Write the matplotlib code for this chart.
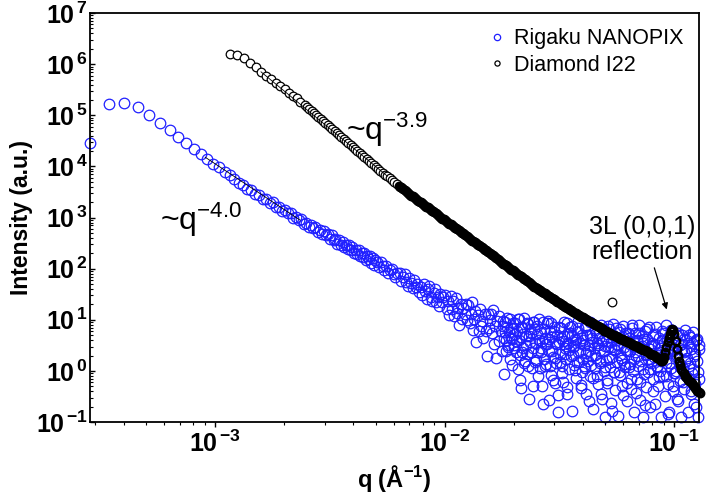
import matplotlib.pyplot as plt
import numpy as np
from matplotlib.ticker import LogLocator, NullFormatter, FuncFormatter

plt.rcParams['font.family'] = 'Liberation Sans'
plt.rcParams['mathtext.fontset'] = 'custom'
plt.rcParams['mathtext.rm'] = 'Liberation Sans'
plt.rcParams['mathtext.bf'] = 'Liberation Sans:bold'
plt.rcParams['mathtext.it'] = 'Liberation Sans:italic'

# ---------------- Data (log10 values) ----------------
# Rigaku NANOPIX: log10 q (A^-1) and log10 intensity
rigaku_logq = [
    -3.544, -3.463, -3.396, -3.337, -3.286, -3.240, -3.198, -3.160, -3.125, -3.093,
    -3.063, -3.034, -3.008, -2.983, -2.959, -2.937, -2.916, -2.896,
    -2.877, -2.859, -2.842, -2.825, -2.809, -2.793, -2.778, -2.763, -2.749, -2.735,
    -2.721, -2.708, -2.695, -2.683, -2.671, -2.659, -2.647, -2.636, -2.625, -2.614,
    -2.603, -2.593, -2.583, -2.573, -2.563, -2.554, -2.545, -2.536, -2.527, -2.518,
    -2.509, -2.500, -2.492, -2.484, -2.476, -2.468, -2.460, -2.452, -2.444, -2.437,
    -2.430, -2.423, -2.416, -2.409, -2.402, -2.395, -2.388, -2.381, -2.374, -2.368,
    -2.362, -2.356, -2.350, -2.344, -2.338, -2.332, -2.326, -2.320, -2.314, -2.308,
    -2.302,
    -2.295, -2.287, -2.279, -2.271, -2.263, -2.255, -2.247, -2.239, -2.231, -2.223, -2.215, -2.207,
    -2.196, -2.189, -2.182, -2.175, -2.168, -2.161, -2.154, -2.147, -2.140, -2.133, -2.126, -2.119,
    -2.112, -2.105,
    -2.097, -2.091, -2.085, -2.079, -2.073, -2.067, -2.061, -2.055, -2.049, -2.043, -2.037, -2.031,
    -2.025, -2.019, -2.013, -2.007,
    -1.997, -1.991, -1.986, -1.980, -1.975, -1.969, -1.964, -1.958, -1.953, -1.947, -1.942, -1.936,
    -1.931, -1.925, -1.920, -1.914, -1.909, -1.903,
    -1.897, -1.892, -1.887, -1.882, -1.877, -1.872, -1.867, -1.862, -1.857, -1.852, -1.847, -1.842,
    -1.837, -1.832, -1.827, -1.822, -1.817, -1.812, -1.807, -1.802,
    -1.798, -1.793, -1.789, -1.784, -1.780, -1.775, -1.771, -1.766, -1.762, -1.757, -1.753, -1.748,
    -1.744, -1.739, -1.735, -1.730, -1.726, -1.721, -1.717, -1.712, -1.708, -1.703,
    -1.698, -1.694, -1.690, -1.686, -1.682, -1.678, -1.674, -1.670, -1.666, -1.662, -1.658, -1.654,
    -1.650, -1.646, -1.642, -1.638, -1.634, -1.630, -1.626, -1.622, -1.618, -1.614, -1.610, -1.606,
    -1.598, -1.594, -1.590, -1.587, -1.583, -1.579, -1.575, -1.571, -1.567, -1.564, -1.560, -1.556,
    -1.552, -1.548, -1.545, -1.541, -1.537, -1.533, -1.529, -1.525, -1.522, -1.518, -1.514, -1.510,
    -1.506, -1.502,
    -1.498, -1.494, -1.491, -1.487, -1.484, -1.480, -1.476, -1.473, -1.469, -1.466, -1.462, -1.458,
    -1.455, -1.451, -1.448, -1.444, -1.440, -1.437, -1.433, -1.430, -1.426, -1.422, -1.419, -1.415,
    -1.412, -1.408, -1.404, -1.401,
    -1.398, -1.394, -1.391, -1.387, -1.384, -1.380, -1.376, -1.373, -1.369, -1.366, -1.362, -1.358,
    -1.355, -1.351, -1.348, -1.344, -1.340, -1.337, -1.333, -1.330, -1.326, -1.322, -1.319, -1.315,
    -1.312, -1.308, -1.304, -1.301,
    -1.298, -1.295, -1.292, -1.288, -1.285, -1.282, -1.278, -1.275, -1.272, -1.268, -1.265, -1.262,
    -1.258, -1.255, -1.252, -1.248, -1.245, -1.242, -1.238, -1.235, -1.232, -1.228, -1.225, -1.222,
    -1.218, -1.215, -1.212, -1.208, -1.205, -1.202,
    -1.198, -1.195, -1.192, -1.188, -1.185, -1.182, -1.178, -1.175, -1.172, -1.168, -1.165, -1.162,
    -1.158, -1.155, -1.152, -1.148, -1.145, -1.142, -1.138, -1.135, -1.132, -1.128, -1.125, -1.122,
    -1.118, -1.115, -1.112, -1.108, -1.105, -1.102,
    -1.098, -1.095, -1.092, -1.088, -1.085, -1.082, -1.078, -1.075, -1.072, -1.068, -1.065, -1.062,
    -1.058, -1.055, -1.052, -1.048, -1.045, -1.042, -1.038, -1.035, -1.032, -1.028, -1.025, -1.022,
    -1.018, -1.015, -1.012, -1.008, -1.005, -1.002,
    -0.998, -0.995, -0.991, -0.988, -0.984, -0.981, -0.978, -0.974, -0.971, -0.967, -0.964, -0.960,
    -0.957, -0.954, -0.950, -0.947, -0.943, -0.940, -0.936, -0.933, -0.930, -0.926, -0.923, -0.919,
    -0.916, -0.912, -0.909, -0.906, -0.902, -0.899, -0.895, -0.892,
]
rigaku_logI = [
    4.46, 5.22, 5.24, 5.16, 5.00, 4.85, 4.71, 4.57, 4.46, 4.34,
    4.24, 4.14, 4.05, 3.98, 3.90, 3.83, 3.76, 3.68,
    3.63, 3.55, 3.54, 3.46, 3.44, 3.36, 3.36, 3.29, 3.30, 3.21,
    3.20, 3.13, 3.15, 3.08, 3.09, 3.00, 3.01, 2.95, 2.97, 2.88,
    2.90, 2.82, 2.86, 2.80, 2.82, 2.72, 2.75, 2.68, 2.73, 2.65,
    2.67, 2.58, 2.65, 2.56, 2.59, 2.49, 2.56, 2.47, 2.53, 2.42,
    2.47, 2.38, 2.47, 2.37, 2.42, 2.30, 2.37, 2.29, 2.37, 2.24,
    2.30, 2.22, 2.30, 2.17, 2.25, 2.18, 2.25, 2.12, 2.20, 2.08,
    2.16,
    2.14, 2.04, 2.13, 2.05, 1.98, 2.05, 1.91, 1.98, 2.00, 1.89, 1.84, 1.92,
    1.91, 1.75, 1.83, 1.90, 1.73, 1.66, 1.81, 1.72, 1.63, 1.78, 1.64, 1.70,
    1.54, 1.64,
    1.49, 1.70, 1.56, 1.40, 1.61, 1.66, 1.44, 1.36, 1.52, 1.61, 1.35, 1.45,
    1.27, 1.50, 1.35, 1.44,
    1.49, 1.21, 1.37, 1.10, 1.47, 1.22, 1.36, 1.08, 1.43, 1.13, 1.23, 0.89,
    1.31, 1.02, 1.23, 1.12, 1.31, 1.00,
    1.29, 0.93, 1.12, 1.34, 0.80, 1.01, 1.17, 0.56, 1.10, 0.79, 1.22, 0.88,
    0.97, 0.64, 1.11, 0.79, 0.30, 1.11, 0.83, 0.99,
    1.11, 0.75, 1.19, 0.53, 0.87, 0.26, 0.98, 0.59, 1.08, 0.79, 0.38, 0.87,
    -0.06, 0.95, 0.60, 1.03, 0.46, 0.77, 0.24, 0.83, 0.62, 0.94,
    0.45, 0.94, 0.59, 0.78, 0.03, 1.02, 0.32, 0.66, -0.34, 0.85, 0.45, 1.04,
    0.19, 0.68, 0.33, 0.92, -0.54, 0.56, 0.75, 0.05, 0.96, 0.44, 0.81, 0.18,
    0.87, 0.36, 0.61, 0.06, 0.75, 0.45, -0.30, 0.95, 0.24, 0.64, 0.14, 0.53,
    0.98, -0.57, 0.38, 0.77, -0.08, 0.67, 0.27, 0.86, -0.24, 0.54, 0.16, 0.71,
    -0.80, 0.57,
    0.34, 0.84, 0.09, 0.59, -0.21, 0.69, 0.44, 0.24, 0.94, -0.46, 0.54, 0.04,
    0.74, 0.29, 0.87, -0.78, 0.47, 0.12, 0.62, -0.13, 0.77, 0.37, 0.97, 0.17,
    0.54, -0.33, 0.70, -0.03,
    0.60, 0.10, 0.85, 0.35, -0.45, 0.70, 0.20, 0.50, -0.10, 0.95, 0.30, 0.65,
    -0.75, 0.45, 0.05, 0.80, 0.25, 0.55, -0.25, 0.75, 0.40, 0.15, 0.90, -0.55,
    0.60, 0.00, 0.48, -0.90,
    0.22, 0.72, -0.18, 0.47, 0.82, 0.07, -0.63, 0.57, 0.27, 0.92, -0.03, 0.42,
    -0.38, 0.67, 0.17, 0.52, -0.88, 0.77, 0.32, -0.08, 0.62, 0.22, 0.87, -0.48,
    0.47, 0.07, 0.75, -0.23, 0.39, 0.59,
    0.64, 0.14, 0.39, -0.36, 0.84, -0.01, 0.49, -0.81, 0.74, 0.29, -0.16, 0.59,
    0.09, 0.89, -0.56, 0.44, 0.19, 0.69, -0.91, 0.54, -0.06, 0.79, 0.34, -0.31,
    0.62, 0.24, 0.86, 0.04, -0.71, 0.49,
    0.20, 0.70, -0.15, 0.50, -0.65, 0.85, 0.10, 0.35, -0.30, 0.65, 0.00, 0.45,
    -0.90, 0.78, 0.30, -0.10, 0.55, -0.50, 0.90, 0.15, 0.40, -0.25, 0.68, -0.80,
    0.50, 0.05, 0.80, -0.40, 0.38, -0.05,
    0.60, 0.00, 0.30, -0.55, 0.75, 0.15, -0.20, 0.50, -0.90, 0.70, 0.05, 0.37,
    -0.35, 0.80, -0.10, 0.25, -0.80, 0.55, 0.10, 0.67, -0.45, 0.43, -0.05, 0.77,
    -0.65, 0.33, -0.25, 0.60, 0.20, -0.90, 0.50, -0.15,
]
# second, interleaved set of Rigaku points in the noisy high-q cloud
rigaku_cloud_logq = [
    -1.748, -1.743, -1.738, -1.733, -1.728, -1.723, -1.718, -1.713, -1.708, -1.703,
    -1.698, -1.693, -1.688, -1.683, -1.678, -1.673, -1.668, -1.663, -1.658, -1.653,
    -1.648, -1.643, -1.638, -1.633, -1.628, -1.623, -1.618, -1.613, -1.608, -1.603,
    -1.598, -1.593, -1.588, -1.583, -1.578, -1.573, -1.568, -1.563, -1.558, -1.553,
    -1.548, -1.543, -1.538, -1.533, -1.528, -1.523, -1.518, -1.513, -1.508, -1.503,
    -1.498, -1.493, -1.488, -1.483, -1.478, -1.473, -1.468, -1.463, -1.458, -1.453,
    -1.448, -1.443, -1.438, -1.433, -1.428, -1.423, -1.418, -1.413, -1.408, -1.403,
    -1.398, -1.393, -1.388, -1.383, -1.378, -1.373, -1.368, -1.363, -1.358, -1.353,
    -1.348, -1.343, -1.338, -1.333, -1.328, -1.323, -1.318, -1.313, -1.308, -1.303,
    -1.298, -1.293, -1.288, -1.283, -1.278, -1.273, -1.268, -1.263, -1.258, -1.253,
    -1.248, -1.243, -1.238, -1.233, -1.228, -1.223, -1.218, -1.213, -1.208, -1.203,
    -1.198, -1.193, -1.188, -1.183, -1.178, -1.173, -1.168, -1.163, -1.158, -1.153,
    -1.148, -1.143, -1.138, -1.133, -1.128, -1.123, -1.118, -1.113, -1.108, -1.103,
    -1.098, -1.093, -1.088, -1.083, -1.078, -1.073, -1.068, -1.063, -1.058, -1.053,
    -1.048, -1.043, -1.038, -1.033, -1.028, -1.023, -1.018, -1.013, -1.008, -1.003,
    -0.998, -0.993, -0.988, -0.983, -0.978, -0.973, -0.968, -0.963, -0.958, -0.953,
    -0.948, -0.943, -0.938, -0.933, -0.928, -0.923, -0.918, -0.913, -0.908, -0.903,
    -0.898, -0.893,
]
rigaku_cloud_logI = [
    0.97, 0.64, 0.77, 0.38, 0.85, 0.50, 1.01, 0.64, 0.11, 0.84,
    0.51, 0.73, 0.36, 1.02, 0.61, -0.18, 0.86, 0.37, 0.72, 0.16,
    0.51, 0.93, 0.10, 0.69, 0.81, 0.36, -0.30, 0.96, 0.54, 0.21,
    0.72, -0.09, 1.01, 0.36, 0.59, -0.65, 0.82, 0.10, 0.52, 0.94,
    0.63, 0.10, 0.93, 0.38, -0.17, 0.78, 0.26, 0.53, -0.47, 0.86,
    0.18, 0.64, -0.04, 0.96, 0.34, 0.48, -0.32, 0.72, 0.41, 0.86,
    0.71, 0.31, 0.48, 0.01, 0.61, 0.18, 0.83, 0.38, -0.27, 0.65,
    0.23, 0.51, 0.06, 0.89, 0.39, -0.59, 0.71, 0.11, 0.56, -0.14,
    0.31, 0.74, -0.09, 0.51, 0.64, 0.19, -0.46, 0.81, 0.39, 0.07,
    0.58, -0.23, 0.88, 0.23, 0.46, -0.78, 0.70, -0.03, 0.41, 0.83,
    0.51, -0.02, 0.81, 0.26, -0.29, 0.66, 0.14, 0.41, -0.59, 0.74,
    0.07, 0.53, -0.16, 0.90, 0.23, 0.37, -0.44, 0.61, 0.30, 0.75,
    -0.22, 0.48, 0.03, 0.63, -0.67, 0.31, 0.81, -0.02, 0.43, 0.15,
    0.54, -0.39, 0.27, 0.72, 0.07, 0.50, -0.11, 0.37, 0.20, 0.60,
    0.75, 0.33, -0.10, 0.62, -0.85, 0.38, 0.15, 0.80, -0.30, 0.50,
    -0.05, 0.28, 0.70, -0.58, 0.08, 0.53, 0.40, -0.21, 0.63, 0.20,
    0.40, -0.13, 0.70, 0.15, -0.40, 0.55, 0.03, 0.30, -0.70, 0.63,
    -0.03, 0.43,
]

# Diamond I22: log10 q and log10 intensity
diamond_logq = [
    -2.936, -2.905, -2.876, -2.849, -2.824, -2.800, -2.777, -2.756, -2.735, -2.716,
    -2.697, -2.679, -2.662, -2.645, -2.629,
    -2.61, -2.60, -2.59, -2.58, -2.57, -2.56, -2.55, -2.54, -2.53, -2.52,
    -2.51, -2.50, -2.49, -2.48, -2.47, -2.46, -2.45, -2.44, -2.43, -2.42,
    -2.41, -2.40, -2.39, -2.38, -2.37, -2.36, -2.35, -2.34, -2.33, -2.32,
    -2.31, -2.30, -2.29, -2.28, -2.27, -2.26, -2.25, -2.24, -2.23, -2.22,
    -2.21,
    -2.200, -2.195, -2.190, -2.185, -2.180, -2.175, -2.170, -2.165, -2.160, -2.155,
    -2.150, -2.145, -2.140, -2.135, -2.130, -2.125, -2.120, -2.115, -2.110, -2.105,
    -2.100, -2.095, -2.090, -2.085, -2.080, -2.075, -2.070, -2.065, -2.060, -2.055,
    -2.050, -2.045, -2.040, -2.035, -2.030, -2.025, -2.020, -2.015, -2.010, -2.005,
    -2.000, -1.995, -1.990, -1.985, -1.980, -1.975, -1.970, -1.965, -1.960, -1.955,
    -1.950, -1.945, -1.940, -1.935, -1.930, -1.925, -1.920, -1.915, -1.910, -1.905,
    -1.900, -1.895, -1.890, -1.885, -1.880, -1.875, -1.870, -1.865, -1.860, -1.855,
    -1.850, -1.845, -1.840, -1.835, -1.830, -1.825, -1.820, -1.815, -1.810, -1.805,
    -1.800, -1.795, -1.790, -1.785, -1.780, -1.775, -1.770, -1.765, -1.760, -1.755,
    -1.750, -1.745, -1.740, -1.735, -1.730, -1.725, -1.720, -1.715, -1.710, -1.705,
    -1.700, -1.695, -1.690, -1.685, -1.680, -1.675, -1.670, -1.665, -1.660, -1.655,
    -1.650, -1.645, -1.640, -1.635, -1.630, -1.625, -1.620, -1.615, -1.610, -1.605,
    -1.600, -1.595, -1.590, -1.585, -1.580, -1.575, -1.570, -1.565, -1.560, -1.555,
    -1.550, -1.545, -1.540, -1.535, -1.530, -1.525, -1.520, -1.515, -1.510, -1.505,
    -1.500, -1.495, -1.490, -1.485, -1.480, -1.475, -1.470, -1.465, -1.460, -1.455,
    -1.450, -1.445, -1.440, -1.435, -1.430, -1.425, -1.420, -1.415, -1.410, -1.405,
    -1.400, -1.395, -1.390, -1.385, -1.380, -1.375, -1.370, -1.365, -1.360, -1.355,
    -1.350, -1.345, -1.340, -1.335, -1.330, -1.325, -1.320, -1.315, -1.310, -1.305,
    -1.300, -1.295, -1.290, -1.285, -1.280, -1.275, -1.270, -1.265, -1.260, -1.255,
    -1.250, -1.245, -1.240, -1.235, -1.230, -1.225, -1.220, -1.215, -1.210, -1.205,
    -1.200, -1.195, -1.190, -1.185, -1.180, -1.175, -1.170, -1.165, -1.160, -1.155,
    -1.150, -1.145, -1.140, -1.135, -1.130, -1.125, -1.120, -1.115, -1.110, -1.105,
    -1.100, -1.095, -1.090, -1.085, -1.080, -1.075, -1.070, -1.065, -1.060, -1.055,
    -1.050, -1.045, -1.040, -1.035, -1.030, -1.025, -1.020, -1.015, -1.010, -1.005,
    -1.000, -0.995, -0.990, -0.985, -0.980, -0.975, -0.970, -0.965, -0.960, -0.955,
    -0.950, -0.945, -0.940, -0.935, -0.930, -0.925, -0.920, -0.915, -0.910, -0.905,
    -0.900, -0.895, -0.890,
]
diamond_logI = [
    6.19, 6.18, 6.12, 6.02, 5.94, 5.85, 5.77, 5.71, 5.64, 5.58,
    5.51, 5.44, 5.38, 5.33, 5.27,
    5.20, 5.16, 5.12, 5.08, 5.04, 5.00, 4.97, 4.93, 4.89, 4.85,
    4.81, 4.77, 4.73, 4.69, 4.65, 4.61, 4.58, 4.54, 4.50, 4.46,
    4.42, 4.38, 4.34, 4.30, 4.26, 4.22, 4.19, 4.15, 4.11, 4.07,
    4.03, 3.99, 3.95, 3.92, 3.88, 3.84, 3.81, 3.77, 3.73, 3.69,
    3.66,
    3.62, 3.60, 3.59, 3.57, 3.55, 3.54, 3.52, 3.50, 3.48, 3.47,
    3.45, 3.43, 3.42, 3.40, 3.38, 3.37, 3.35, 3.33, 3.31, 3.30,
    3.28, 3.26, 3.25, 3.23, 3.21, 3.20, 3.18, 3.16, 3.15, 3.13,
    3.12, 3.10, 3.08, 3.07, 3.05, 3.03, 3.02, 3.00, 2.98, 2.97,
    2.95, 2.93, 2.92, 2.90, 2.88, 2.87, 2.85, 2.83, 2.82, 2.80,
    2.79, 2.77, 2.75, 2.74, 2.72, 2.70, 2.69, 2.67, 2.65, 2.64,
    2.62, 2.60, 2.59, 2.57, 2.55, 2.54, 2.52, 2.50, 2.49, 2.47,
    2.46, 2.44, 2.42, 2.41, 2.39, 2.37, 2.36, 2.34, 2.32, 2.31,
    2.29, 2.27, 2.26, 2.24, 2.22, 2.21, 2.19, 2.17, 2.15, 2.14,
    2.12, 2.10, 2.09, 2.07, 2.05, 2.04, 2.02, 2.00, 1.98, 1.97,
    1.95, 1.93, 1.92, 1.90, 1.88, 1.87, 1.85, 1.83, 1.82, 1.80,
    1.79, 1.77, 1.75, 1.74, 1.72, 1.70, 1.69, 1.67, 1.65, 1.64,
    1.62, 1.61, 1.59, 1.58, 1.56, 1.55, 1.53, 1.52, 1.50, 1.49,
    1.47, 1.46, 1.44, 1.43, 1.41, 1.40, 1.38, 1.37, 1.35, 1.34,
    1.32, 1.31, 1.29, 1.28, 1.27, 1.25, 1.24, 1.23, 1.21, 1.20,
    1.19, 1.17, 1.16, 1.14, 1.13, 1.12, 1.10, 1.09, 1.08, 1.06,
    1.05, 1.04, 1.02, 1.01, 1.00, 0.98, 0.97, 0.96, 0.94, 0.93,
    0.92, 0.90, 0.89, 0.87, 0.86, 0.85, 0.83, 0.82, 0.81, 0.79,
    0.78, 0.77, 0.76, 0.75, 0.74, 0.72, 0.71, 0.70, 0.69, 0.68,
    0.67, 0.66, 0.65, 0.63, 0.62, 0.61, 0.60, 0.59, 0.58, 0.57,
    0.56, 0.54, 0.53, 0.52, 0.51, 0.50, 0.49, 0.48, 0.47, 0.45,
    0.44, 0.43, 0.42, 0.41, 0.40, 0.39, 0.38, 0.36, 0.35, 0.34,
    0.33, 0.32, 0.305, 0.29, 0.275, 0.26, 0.245, 0.225, 0.20, 0.19,
    0.21, 0.27, 0.36, 0.46, 0.56, 0.65, 0.73, 0.79, 0.82, 0.80,
    0.72, 0.58, 0.43, 0.30, 0.19, 0.11, 0.04, -0.01, -0.05, -0.09,
    -0.12, -0.145, -0.17, -0.195, -0.22, -0.245, -0.27, -0.30, -0.33, -0.36,
    -0.39, -0.415, -0.44,
]
n_sparse = 56  # the low-q Diamond points are still resolved as separate circles

# single stray Diamond point near q = 0.053
diamond_stray_logq = [-1.274]
diamond_stray_logI = [1.345]

# power-law guide lines (end points, log10)
fit40_logq = [-3.043, -2.630]
fit40_logI = [4.18, 2.95]
fit39_logq = [-2.800, -2.250]
fit39_logI = [5.85, 3.81]

# ---------------- Plotting ----------------
fig = plt.figure(figsize=(7.08, 5.03), dpi=100)
ax = fig.add_axes([0.127, 0.161, 0.860, 0.813])

rq = 10 ** np.array(rigaku_logq + rigaku_cloud_logq)
rI = 10 ** np.array(rigaku_logI + rigaku_cloud_logI)
ax.plot(rq, rI, ls='none', marker='o', ms=7.6, mfc='none', mec='#1f1fff', mew=0.9,
        clip_on=False, label='Rigaku NANOPIX', zorder=2)

dq = 10 ** np.array(diamond_logq)
dI = 10 ** np.array(diamond_logI)
black_open = dict(ls='none', marker='o', ms=6.2, mfc='white', mec='black', mew=0.9,
                  clip_on=False, zorder=3)
ax.plot(dq[:n_sparse], dI[:n_sparse], label='Diamond I22', **black_open)
ax.plot(10 ** np.array(diamond_stray_logq), 10 ** np.array(diamond_stray_logI), **black_open)
# overlapping markers of the dense part merge into a solid band
ax.plot(dq[n_sparse:], dI[n_sparse:], ls='none', marker='o', ms=5.3, mfc='none',
        mec='black', mew=1.8, clip_on=False, zorder=3)
ax.plot(10 ** np.array(fit40_logq), 10 ** np.array(fit40_logI), color='black', lw=0.6, zorder=4)
ax.plot(10 ** np.array(fit39_logq), 10 ** np.array(fit39_logI), color='black', lw=0.6, zorder=4)

ax.set_xscale('log')
ax.set_yscale('log')
ax.set_xlim(10 ** -3.545, 10 ** -0.894)
ax.set_ylim(1e-1, 1e7)


def pow_label(v, pos):
    e = int(round(np.log10(v)))
    return r'$\mathbf{10}^{\,\mathbf{%d}}$' % e


for axis in (ax.xaxis, ax.yaxis):
    axis.set_major_locator(LogLocator(base=10, numticks=20))
    axis.set_minor_locator(LogLocator(base=10, subs=np.arange(2, 10), numticks=20))
    axis.set_major_formatter(FuncFormatter(pow_label))
    axis.set_minor_formatter(NullFormatter())

ax.tick_params(axis='x', which='major', direction='out', length=3.5, width=1.0, labelsize=18, pad=3)
ax.tick_params(axis='x', which='minor', direction='out', length=2.2, width=0.8)
ax.tick_params(axis='y', which='major', direction='in', length=3.5, width=1.0, labelsize=18, pad=1.5)
ax.tick_params(axis='y', which='minor', direction='in', length=2.2, width=0.8)
for sp in ax.spines.values():
    sp.set_linewidth(1.3)

ax.set_xlabel(r'q (Å$^{\mathbf{-1}}$)', fontsize=17, fontweight='bold', labelpad=4)
ax.set_ylabel('Intensity (a.u.)', fontsize=16.5, fontweight='bold', labelpad=2)

leg = ax.legend(loc='upper right', bbox_to_anchor=(1.0, 1.0), frameon=False, fontsize=15.5,
                markerscale=0.6, handlelength=0.6, handletextpad=0.5, labelspacing=0.25,
                borderaxespad=0.3)

# annotations
ax.text(0.115, 0.469, r'~$\mathrm{q}^{-4.0}$', transform=ax.transAxes, fontsize=23,
        ha='left', va='baseline')
ax.text(0.421, 0.689, r'~$\mathrm{q}^{-3.9}$', transform=ax.transAxes, fontsize=23,
        ha='left', va='baseline')
ax.text(0.907, 0.447, '3L (0,0,1)\nreflection', transform=ax.transAxes, fontsize=18,
        ha='center', va='center', linespacing=1.05)
ax.annotate('', xy=(0.0933, 14.1), xytext=(0.0811, 117),
            arrowprops=dict(arrowstyle='-|>', color='black', lw=0.9, mutation_scale=9))

plt.savefig('out.png', dpi=100)
